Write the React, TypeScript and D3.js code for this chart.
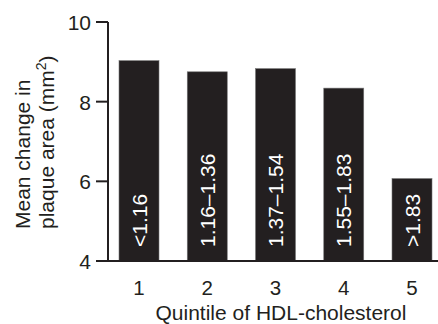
import React from "react";
import * as d3 from "d3";

const quintiles = [1, 2, 3, 4, 5];
const hdlRanges = ["<1.16", "1.16\u20131.36", "1.37\u20131.54", "1.55\u20131.83", ">1.83"];
const meanChange = [9.03, 8.75, 8.83, 8.34, 6.07];
const yTicks = [4, 6, 8, 10];

const W = 438;
const H = 324;
const FONT = "'Liberation Sans', Arial, Helvetica, sans-serif";
const INK = "#231f20";

export default function App() {
  const x = d3.scaleLinear().domain([1, 5]).range([139, 412]);
  const y = d3.scaleLinear().domain([4, 10]).range([261, 22]);
  const barW = 40;
  const axisX = 108;
  const fs = 21;

  return (
    <svg
      width={W}
      height={H}
      style={{ position: "absolute", left: 0, top: 0, background: "#fff" }}
      fontFamily={FONT}
    >
      {quintiles.map((q, i) => (
        <g key={q}>
          <rect
            x={x(q) - barW / 2}
            y={y(meanChange[i])}
            width={barW}
            height={y(4) - y(meanChange[i])}
            fill={INK}
            stroke="#777"
            strokeWidth={0.6}
          />
          <text
            transform={`translate(${x(q) + 7.5},${y(4) - 14}) rotate(-90)`}
            fill="#fff"
            fontSize={fs}
            textAnchor="start"
          >
            {hdlRanges[i]}
          </text>
          <text x={x(q)} y={295} fontSize={20.5} fill={INK} textAnchor="middle">
            {q}
          </text>
        </g>
      ))}
      {/* y axis */}
      <line x1={axisX} x2={axisX} y1={y(10)} y2={y(4)} stroke={INK} strokeWidth={2} />
      {yTicks.map((t) => (
        <g key={t}>
          <line x1={96} x2={axisX} y1={y(t)} y2={y(t)} stroke={INK} strokeWidth={2} />
          <text x={91} y={y(t) + 8} fontSize={fs} fill={INK} textAnchor="end">
            {t}
          </text>
        </g>
      ))}
      {/* x axis */}
      <line x1={96} x2={W} y1={y(4)} y2={y(4)} stroke={INK} strokeWidth={2} />
      <text x={281} y={320} fontSize={fs} fill={INK} textAnchor="middle">
        Quintile of HDL-cholesterol
      </text>
      <g transform={`translate(0,229) rotate(-90)`}>
        <text x={0} y={30} fontSize={fs} fill={INK} textAnchor="start">
          Mean change in
        </text>
        <text x={0} y={54} fontSize={fs} fill={INK} textAnchor="start">
          plaque area (mm
          <tspan dy={-8} fontSize={14}>2</tspan>
          <tspan dy={8}>)</tspan>
        </text>
      </g>
    </svg>
  );
}
